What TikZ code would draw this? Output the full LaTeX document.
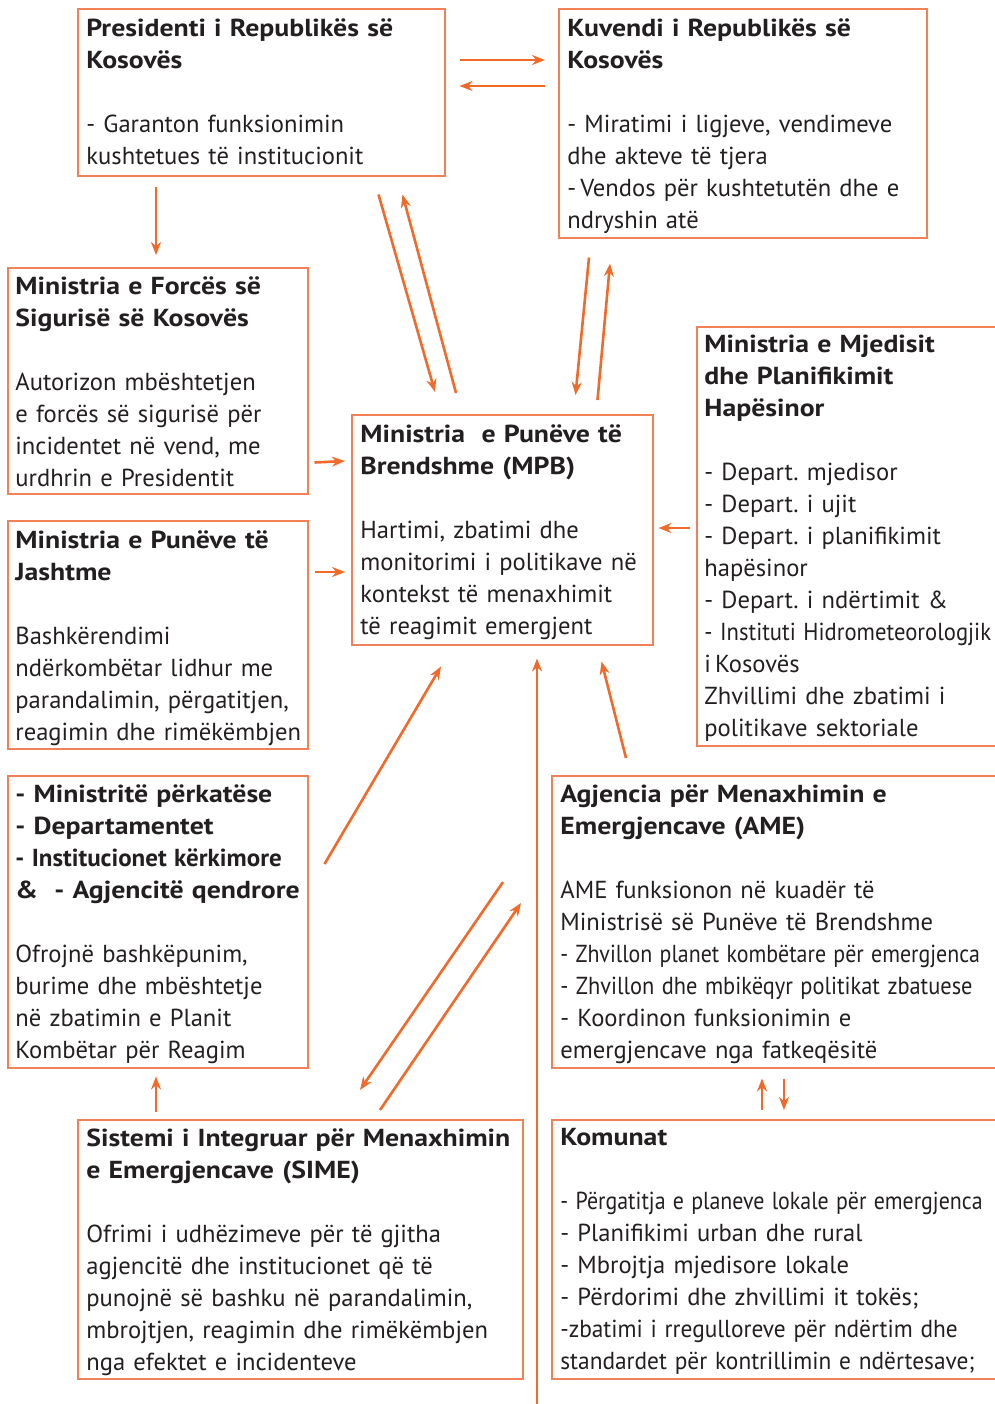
\documentclass[tikz,border=0pt]{standalone}
\usepackage{fontspec}
\setmainfont{PT Sans}[BoldFeatures={FakeStretch=1.13}]
\usepackage{tikz}
\usetikzlibrary{arrows.meta, calc}
\definecolor{boxline}{HTML}{F28158}
\definecolor{arrline}{HTML}{F26A2A}
\definecolor{ink}{HTML}{231F20}
\newcommand{\squeeze}[2]{\scalebox{#1}[1]{#2}}
\newcommand{\boxfont}{\fontsize{12.3}{16}\selectfont}
\hyphenpenalty=10000
\frenchspacing
\tikzstyle{block} = [draw=boxline, line width=0.75pt, rectangle, anchor=north west, inner sep=0pt]
\tikzstyle{txt} = [anchor=north west, inner sep=0pt, align=left, text=ink, text width=250pt, font=\boxfont]
\tikzstyle{arr} = [draw=arrline, line width=1.3pt, -{Stealth[length=6.5pt,width=5pt]}]

\begin{document}
\begin{tikzpicture}[x=0.5pt,y=-0.5pt]
  \useasboundingbox (0,0) rectangle (995,1404);
  % boxes
  \node [block, minimum width=183.5pt, minimum height=83.5pt] (pres) at (77,8) {};
  \node [block, minimum width=184pt, minimum height=114.5pt] (kuv) at (558,8) {};
  \node [block, minimum width=150pt, minimum height=113pt] (mfs) at (7,267) {};
  \node [block, minimum width=150.5pt, minimum height=115pt] (mpb) at (351,414) {};
  \node [block, minimum width=151pt, minimum height=209.5pt] (mmph) at (696,326) {};
  \node [block, minimum width=150pt, minimum height=114pt] (mpj) at (7,520) {};
  \node [block, minimum width=150pt, minimum height=146pt] (minis) at (7,775) {};
  \node [block, minimum width=224pt, minimum height=146pt] (ame) at (551,775) {};
  \node [block, minimum width=222.5pt, minimum height=129.5pt] (sime) at (77,1119) {};
  \node [block, minimum width=224pt, minimum height=129.5pt] (kom) at (551,1119) {};
  % texts
  \node [txt] (pres-t) at ($(pres.north west)+(9,10)$)
    {\textbf{Presidenti i Republikës së}\\ \textbf{Kosovës}\\[16pt]
     - Garanton funksionimin\\ kushtetues të institucionit};
  \node [txt] (kuv-t) at ($(kuv.north west)+(9,10)$)
    {\textbf{Kuvendi i Republikës së}\\ \textbf{Kosovës}\\[16pt]
     - Miratimi i ligjeve, vendimeve\\ dhe akteve të tjera\\
     -\,Vendos për kushtetutën dhe e\\ ndryshin atë};
  \node [txt] (mfs-t) at ($(mfs.north west)+(8,9)$)
    {\textbf{Ministria e Forcës së}\\ \textbf{Sigurisë së Kosovës}\\[16pt]
     Autorizon mbështetjen\\ e forcës së sigurisë për\\
     incidentet në vend, me\\ urdhrin e Presidentit};
  \node [txt] (mpb-t) at ($(mpb.north west)+(9,10)$)
    {\textbf{Ministria\ \ e Punëve të}\\ \textbf{Brendshme (MPB)}\\[16pt]
     Hartimi, zbatimi dhe\\ monitorimi i politikave në\\
     kontekst të menaxhimit\\ të reagimit emergjent};
  \node [txt] (mmph-t) at ($(mmph.north west)+(8,9)$)
    {\textbf{Ministria e Mjedisit}\\ \textbf{dhe Planifikimit}\\ \textbf{Hapësinor}\\[16pt]
     - Depart. mjedisor\\ - Depart. i ujit\\ - Depart. i planifikimit\\ hapësinor\\
     - Depart. i ndërtimit \&\\ \squeeze{0.92}{- Instituti Hidrometeorologjik}\\ i\,Kosovës\\
     Zhvillimi dhe zbatimi i\\ politikave sektoriale};
  \node [txt] (mpj-t) at ($(mpj.north west)+(8,10)$)
    {\textbf{Ministria e Punëve të}\\ \textbf{Jashtme}\\[16pt]
     Bashkërendimi\\ ndërkombëtar lidhur me\\
     parandalimin, përgatitjen,\\ reagimin dhe rimëkëmbjen};
  \node [txt] (minis-t) at ($(minis.north west)+(8,9)$)
    {\textbf{- Ministritë përkatëse}\\ \textbf{- Departamentet}\\
     \squeeze{0.9}{\textbf{- Institucionet kërkimore}}\\ \textbf{\&\ \ - Agjencitë qendrore}\\[16pt]
     Ofrojnë bashkëpunim,\\ burime dhe mbështetje\\
     në zbatimin e Planit\\ Kombëtar për Reagim};
  \node [txt] (ame-t) at ($(ame.north west)+(9,9)$)
    {\textbf{Agjencia për Menaxhimin e}\\ \textbf{Emergjencave (AME)}\\[16pt]
     AME funksionon në kuadër të\\ Ministrisë së Punëve të Brendshme\\
     \squeeze{0.89}{- Zhvillon planet kombëtare për emergjenca}\\
     \squeeze{0.91}{- Zhvillon dhe mbikëqyr politikat zbatuese}\\
     - Koordinon funksionimin e\\ emergjencave nga fatkeqësitë};
  \node [txt] (sime-t) at ($(sime.north west)+(9,9)$)
    {\textbf{Sistemi i Integruar për Menaxhimin}\\ \textbf{e Emergjencave (SIME)}\\[16pt]
     Ofrimi i udhëzimeve për të gjitha\\ agjencitë dhe institucionet që të\\
     punojnë së bashku në parandalimin,\\ mbrojtjen, reagimin dhe rimëkëmbjen\\
     nga efektet e incidenteve};
  \node [txt] (kom-t) at ($(kom.north west)+(9,9)$)
    {\textbf{Komunat}\\[16pt]
     \squeeze{0.89}{- Përgatitja e planeve lokale për emergjenca}\\ - Planifikimi urban dhe rural\\
     - Mbrojtja mjedisore lokale\\ - Përdorimi dhe zhvillimi it tokës;\\
     \squeeze{0.95}{-zbatimi i rregulloreve për ndërtim dhe}\\
     \squeeze{0.95}{standardet për kontrillimin e ndërtesave;}};
  \coordinate (feed) at (537,1410);
  % connectors
  \draw [arr] ($(pres.north east)+(14,52)$) -- ($(kuv.north west)+(-13,52)$);
  \draw [arr] ($(kuv.north west)+(-13,78)$) -- ($(pres.north east)+(14,78)$);
  \draw [arr] ($(pres.south west)+(79,10)$) -- ($(mfs.north west)+(149,-12)$);
  \draw [arr] ($(pres.south east)+(-67,18)$) -- ($(mpb.north west)+(84,-22)$);
  \draw [arr] ($(mpb.north west)+(105,-21)$) -- ($(pres.south east)+(-43,18)$);
  \draw [arr] ($(kuv.south west)+(31,19)$) -- ($(mpb.north east)+(-78,-19)$);
  \draw [arr] ($(mpb.north east)+(-56,-14)$) -- ($(kuv.south west)+(52,25)$);
  \draw [arr] ($(mfs.south east)+(6,-32)$) -- ($(mpb.north west)+(-6,47)$);
  \draw [arr] ($(mpj.north east)+(6,52)$) -- ($(mpb.north west)+(-6,158)$);
  \draw [arr] ($(mmph.north west)+(-6,202)$) -- ($(mpb.north east)+(5,114)$);
  \draw [arr] ($(minis.north east)+(16,89)$) -- ($(mpb.south west)+(90,21)$);
  \draw [arr] ($(ame.north west)+(75,-17)$) -- ($(mpb.south east)+(-52,16)$);
  \draw [arr] (feed) -- ($(mpb.south west)+(186,13)$);
  \draw [arr] ($(ame.north west)+(-48,107)$) -- ($(sime.north west)+(283,-29)$);
  \draw [arr] ($(sime.north west)+(303,-9)$) -- ($(ame.north west)+(-30,128)$);
  \draw [arr] ($(sime.north west)+(79,-7)$) -- ($(minis.south west)+(149,8)$);
  \draw [arr] ($(kom.north west)+(211,-9)$) -- ($(ame.south west)+(211,10)$);
  \draw [arr] ($(ame.south west)+(233,10)$) -- ($(kom.north west)+(233,-9)$);
\end{tikzpicture}
\end{document}
